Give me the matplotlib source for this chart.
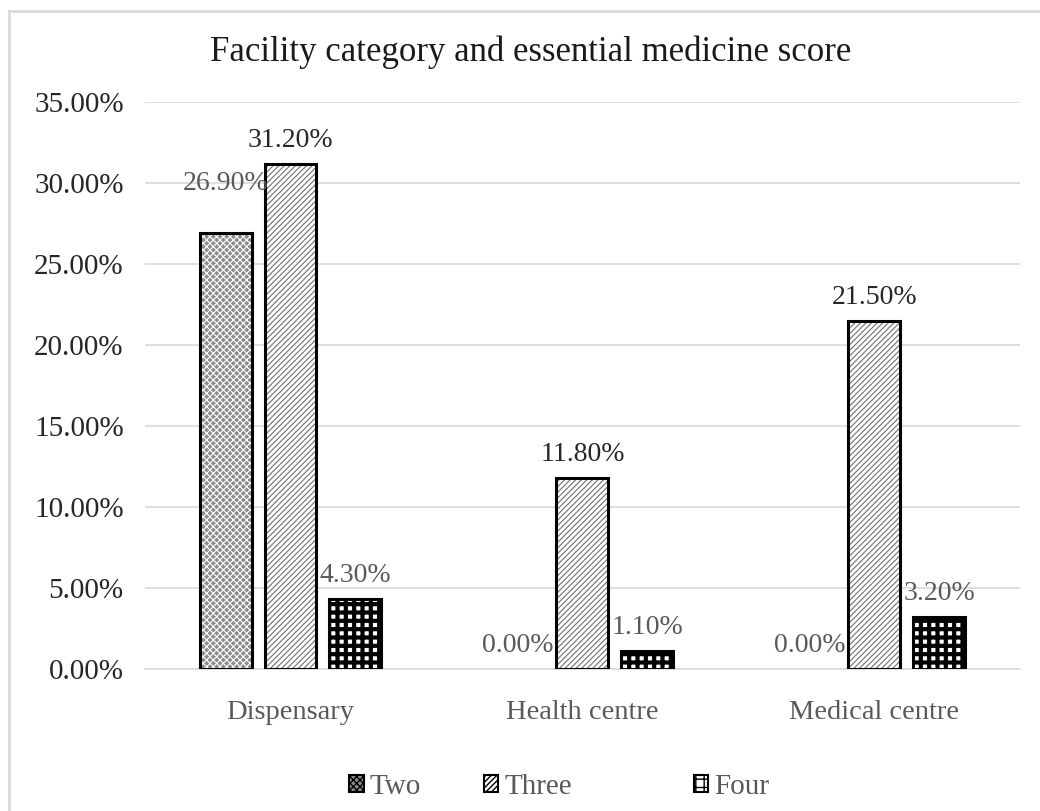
import numpy as np
import matplotlib
matplotlib.use('Agg')
import matplotlib.pyplot as plt
from matplotlib.lines import Line2D

categories = ['Dispensary', 'Health centre', 'Medical centre']
series_names = ['Two', 'Three', 'Four']
two_vals = [26.90, 0.00, 0.00]
three_vals = [31.20, 11.80, 21.50]
four_vals = [4.30, 1.10, 3.20]

plt.rcParams['font.family'] = ['Liberation Serif', 'DejaVu Serif']

fig = plt.figure(figsize=(10.4, 8.11), dpi=100)
ax = fig.add_axes([0.139, 0.175, 0.842, 0.699])

x = np.arange(len(categories))
w = 0.178
step = 0.222

# bar styles: (face, hatch, hatch colour, hatch lw)
styles = [
    ('#8c8c8c', 'xxxxx', 'white', 0.8),
    ('white', '//////', '#707070', 0.8),
    ('white', '++', 'black', 3.0),
]
label_cols = ['#595959', '#262626', '#595959']
all_vals = [two_vals, three_vals, four_vals]

for i, vals in enumerate(all_vals):
    face, hatch, hcol, hlw = styles[i]
    pos = x + (i - 1) * step
    with plt.rc_context({'hatch.linewidth': hlw}):
        ax.bar(pos, vals, width=w, color=face, hatch=hatch, edgecolor=hcol,
               linewidth=0, zorder=2)
    b = ax.bar(pos, vals, width=w, fill=False, edgecolor='black',
               linewidth=2.2, zorder=3)
    for j, (p, v) in enumerate(zip(pos, vals)):
        if v == 0:
            # empty bars have no outline
            b[j].set_visible(False)
        off = 8
        if i == 0 and j == 0:
            off = 27
        ax.annotate(f'{v:.2f}%', (p, v), xytext=(0, off), textcoords='offset points',
                    ha='center', va='bottom', fontsize=20, color=label_cols[i], zorder=4)

ax.set_xlim(-0.5, 2.5)
ax.set_ylim(0, 35)
ax.set_yticks(np.arange(0, 36, 5))
ax.set_yticklabels([f'{t:.2f}%' for t in np.arange(0, 36, 5)])
ax.set_xticks(x)
ax.set_xticklabels(categories)
ax.tick_params(axis='y', length=0, labelsize=21, labelcolor='#262626', pad=15)
ax.tick_params(axis='x', length=0, labelsize=20.5, labelcolor='#595959', pad=22)
ax.yaxis.grid(True, color='#d9d9d9', linewidth=1.2, zorder=0)
ax.set_axisbelow(True)
for s in ['top', 'right', 'left']:
    ax.spines[s].set_visible(False)
ax.spines['bottom'].set_color('#d9d9d9')
ax.spines['bottom'].set_linewidth(1.2)

fig.text(0.51, 0.935, 'Facility category and essential medicine score', ha='center',
         va='center', fontsize=25, color='#1a1a1a')

# legend, one entry per box so the gaps follow the original
leg_x = [0.336, 0.465, 0.667]
for i in range(3):
    face, hatch, hcol, hlw = styles[i]
    h = plt.Rectangle((0, 0), 1, 1, facecolor=face, hatch=hatch,
                      edgecolor='black', linewidth=1.5)
    leg = fig.legend([h], [series_names[i]], loc='center left',
                     bbox_to_anchor=(leg_x[i], 0.03), frameon=False, fontsize=21,
                     handlelength=0.5, handleheight=0.5, handletextpad=0.2,
                     borderpad=0, borderaxespad=0)
    for t in leg.get_texts():
        t.set_color('#595959')

# chart frame
fig.add_artist(Line2D([0.0087, 1.0], [0.9864, 0.9864], color='#d9d9d9', linewidth=2,
                      transform=fig.transFigure))
fig.add_artist(Line2D([0.0087, 0.0087], [0.0, 0.9864], color='#d9d9d9', linewidth=2,
                      transform=fig.transFigure))

fig.savefig('out.png', dpi=100)
